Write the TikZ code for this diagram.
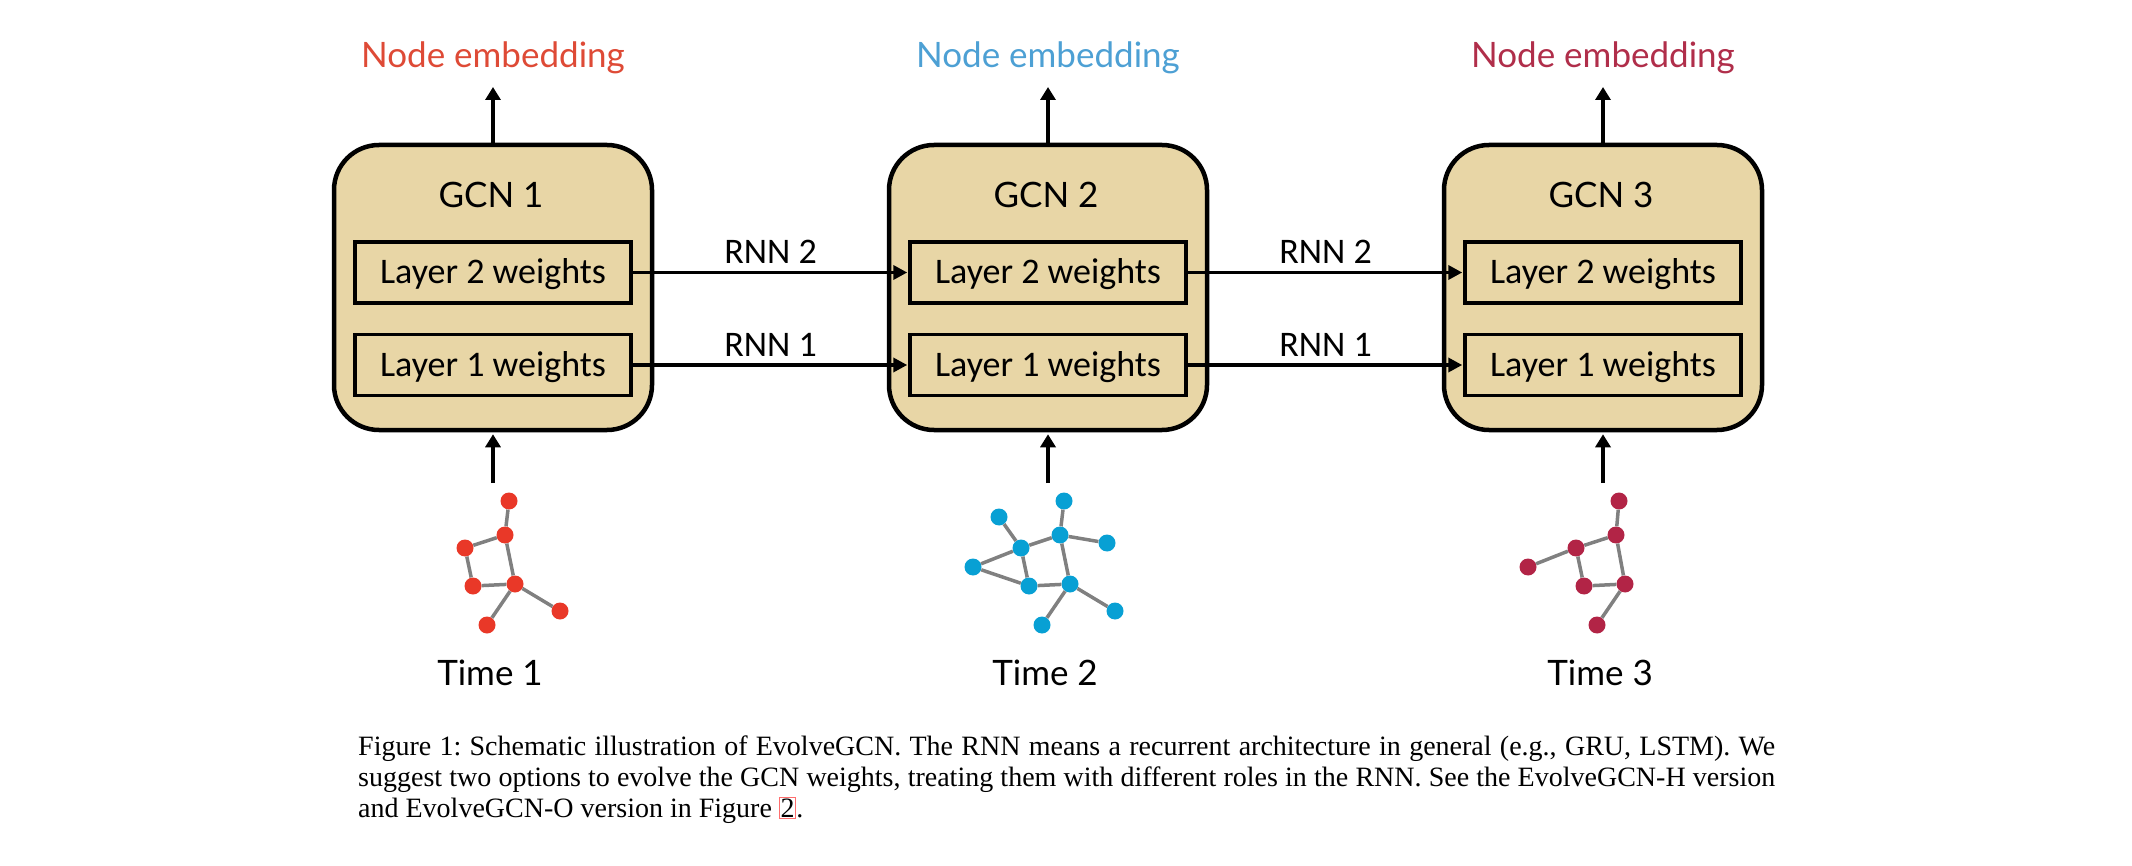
\documentclass[tikz,border=0pt]{standalone}
\usepackage{fontspec}
\setmainfont{Liberation Serif}
\newfontfamily\gillfont{Lato}
\newfontfamily\califont{Carlito}
\usetikzlibrary{arrows.meta}

\definecolor{parch}{RGB}{232,214,166}
\definecolor{embred}{RGB}{222,74,54}
\definecolor{embblue}{RGB}{77,160,212}
\definecolor{embcrim}{RGB}{176,46,74}
\definecolor{gred}{RGB}{233,56,40}
\definecolor{gblue}{RGB}{8,160,212}
\definecolor{gcrim}{RGB}{178,36,70}
\definecolor{edgegray}{RGB}{128,128,128}
\definecolor{linkred}{RGB}{255,110,110}

\begin{document}
\begin{tikzpicture}[x=1pt,y=-1pt,
  gcnbox/.style={draw, line width=4.5pt, fill=parch, rounded corners=45pt,
    minimum width=318pt, minimum height=285pt, inner sep=0pt},
  layerbox/.style={draw, line width=3.5pt, fill=parch, minimum width=276pt,
    minimum height=61pt, inner sep=0pt, text height=23pt, text depth=0pt,
    font=\fontsize{36}{40}\selectfont\califont},
  gilltext/.style={anchor=base, inner sep=0pt, font=\fontsize{35}{40}\selectfont\gillfont},
  rnnlab/.style={midway, anchor=base, yshift=9pt, inner sep=0pt,
    font=\fontsize{36}{40}\selectfont\califont},
  rnnarr/.style={line width=3.5pt, -{Triangle[length=14pt,width=14pt]}, shorten >=1pt},
  uparr/.style={line width=4.5pt, -{Triangle[length=13pt,width=15pt]}},
  gn/.style={circle, inner sep=0pt, minimum size=17pt, fill=#1},
  ge/.style={draw=edgegray, line width=3.5pt},
]
\useasboundingbox (0,0) rectangle (2132,866);

\foreach \i/\cx/\col in {1/493/embred,2/1048/embblue,3/1603/embcrim}{
  \node[gilltext, text=\col] (emb\i) at (\cx,68) {Node embedding};
  \coordinate (top\i) at (\cx,87);
  \coordinate (bot\i) at (\cx,483);
  \node[gcnbox] (g\i) at (\cx,287.5) {};
  \node[gilltext] (gl\i) at (\cx-2,208) {GCN \i};
  \node[layerbox] (ltwo\i) at (\cx,272.5) {Layer 2 weights};
  \node[layerbox] (lone\i) at (\cx,365) {Layer 1 weights};
  \draw[uparr] (g\i.north) -- (top\i);
  \draw[uparr, shorten >=2pt] (bot\i) -- (g\i.south);
  \node[gilltext] (time\i) at (\cx-3,685) {Time \i};
}

\foreach \a/\b in {1/2,2/3}{
  \draw[rnnarr] (ltwo\a.east) -- node[rnnlab] {RNN 2} (ltwo\b.west);
  \draw[rnnarr] (lone\a.east) -- node[rnnlab] {RNN 1} (lone\b.west);
}

% graph 1
\node[gn=gred] (a1) at (509,501) {};
\node[gn=gred] (a2) at (505,535) {};
\node[gn=gred] (a3) at (465,548) {};
\node[gn=gred] (a4) at (473,586) {};
\node[gn=gred] (a5) at (515,584) {};
\node[gn=gred] (a6) at (560,611) {};
\node[gn=gred] (a7) at (487,625) {};
\foreach \u/\v in {a1/a2,a2/a3,a3/a4,a4/a5,a5/a2,a5/a6,a5/a7}
  \draw[ge] (\u) -- (\v);

% graph 2
\node[gn=gblue] (ba) at (1064,501) {};
\node[gn=gblue] (bb) at (999,517) {};
\node[gn=gblue] (bc) at (1060,535) {};
\node[gn=gblue] (bd) at (1107,543) {};
\node[gn=gblue] (be) at (1021,548) {};
\node[gn=gblue] (bf) at (973,567) {};
\node[gn=gblue] (bg) at (1029,586) {};
\node[gn=gblue] (bh) at (1070,584) {};
\node[gn=gblue] (bi) at (1115,611) {};
\node[gn=gblue] (bj) at (1042,625) {};
\foreach \u/\v in {ba/bc,bc/bd,bc/be,be/bb,be/bf,bf/bg,be/bg,bg/bh,bh/bc,bh/bi,bh/bj}
  \draw[ge] (\u) -- (\v);

% graph 3
\node[gn=gcrim] (c1) at (1619,501) {};
\node[gn=gcrim] (c2) at (1616,535) {};
\node[gn=gcrim] (c3) at (1576,548) {};
\node[gn=gcrim] (c4) at (1528,567) {};
\node[gn=gcrim] (c5) at (1584,586) {};
\node[gn=gcrim] (c6) at (1625,584) {};
\node[gn=gcrim] (c7) at (1597,625) {};
\foreach \u/\v in {c1/c2,c2/c3,c3/c4,c3/c5,c5/c6,c6/c2,c6/c7}
  \draw[ge] (\u) -- (\v);

% caption
\node[anchor=north west, text width=1417pt, align=justify, inner sep=0pt,
  font=\fontsize{28}{30.8}\selectfont\frenchspacing] (cap) at (358,736)
  {Figure 1: Schematic illustration of EvolveGCN. The RNN means a recurrent architecture in general (e.g., GRU, LSTM). We\linebreak
  suggest two options to evolve the GCN weights, treating them with different roles in the RNN. See the EvolveGCN-H version\linebreak
  and EvolveGCN-O version in Figure {\fboxsep=0.5pt\fboxrule=1.2pt\color{linkred}\fbox{\color{black}2}}.};
\end{tikzpicture}
\end{document}
